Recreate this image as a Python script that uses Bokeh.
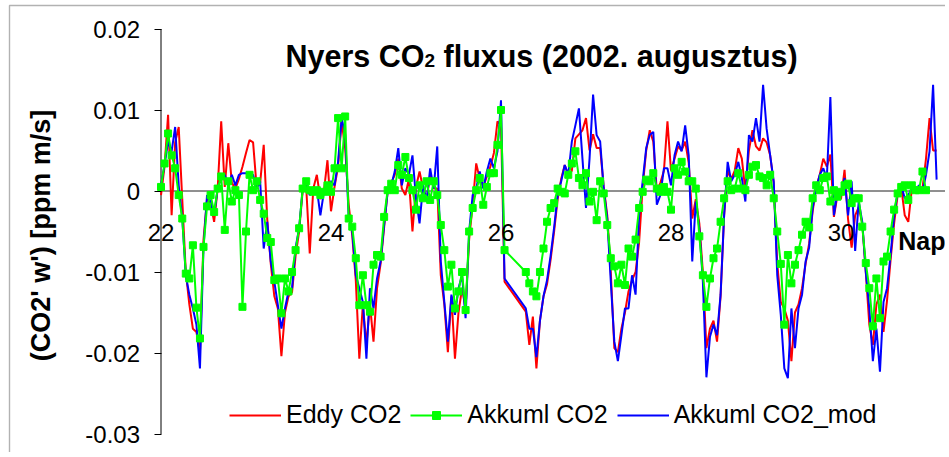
import numpy as np
from bokeh.plotting import figure
from bokeh.models import (Legend, LegendItem, Label, FixedTicker,
                          CustomJSTickFormatter, BoxAnnotation, Range1d)
from bokeh.embed import file_html
from bokeh.resources import INLINE

# ---------------- data (values in 1e-3 ppm m/s, hourly, starting 22 Aug 00h) ----
START_DAY = 22
hours_eddy_mod = list(range(0, 98)) + list(range(103, 220))
hours_akk = list(range(0, 98)) + list(range(103, 217))

eddy_co2 = [
    -0.5, 3.0, 9.4, -3.0, 6.0, 7.9, -1.0, -10.0, -14.0, -17.0, -17.4, -20.0, -6.0, -1.0, -1.5, -3.8, 0.3, 8.6, 0.5, 5.9, 1.0, 0.3, 1.5, 3.0,
    4.7, 6.3, 6.0, 0.5, 1.0, 5.7, -3.5, -9.0, -13.0, -14.5, -20.4, -15.0, -13.0, -12.5, -8.0, -5.0, 0.0, 0.5, -7.7, 0.3, 2.0, -1.0, 0.0, 3.8,
    -2.5, 0.5, 3.0, 8.6, 5.3, -1.7, -5.5, -11.0, -20.7, -14.0, -19.0, -14.0, -18.6, -12.0, -9.0, -4.5, 0.0, 1.0, 2.0, 4.0, 0.3, -0.5, 1.5, -5.0,
    0.5, 2.4, 0.3, -1.0, 2.0, 0.3, 0.3, -10.4, -14.0, -19.9, -13.0, -20.7, -15.0, -12.0, -14.5, -6.0, -1.7, 3.4, 1.5, 0.5, 1.8, 3.0, 4.7, 8.6,
    8.1, -11.2,
    -14.9, -19.0, -15.5, -21.9, -16.0, -13.0, -11.5, -8.5,
    -5.0, -1.0, 1.5, 3.2, 2.0, 2.5, 6.5, 7.0, 7.5,
    9.0, 5.0, 7.0, 5.3, 5.3, 0.5, -3.0, -10.0, -19.4, -19.9, -17.0, -15.0, -12.4, -11.0, -10.0, -6.3, 0.5, 5.0, 7.5, 6.1, 0.0, 1.0, 2.5, 8.6,
    2.5, 4.0, 5.5, 5.0, 6.1, 3.5, -3.4, -1.0, -4.0, -10.0, -19.4, -17.0, -16.0, -18.6, -13.0, -3.0, 2.5, 1.5, 2.5, 5.3, 4.0, 0.0, 5.0, 7.5,
    5.5, 5.0, 6.5, 6.0, 4.4, 1.0, -9.0, -13.7, -14.5, -16.0, -21.0, -15.0, -14.0, -12.0, -9.0, -6.5, -2.5, 0.5, 2.0, 4.0, 3.0, 4.5, -3.2, -0.5,
    -1.0, 2.6, -3.5, -7.0, -3.0, -2.0, -4.0, -10.0, -16.5, -19.0, -14.0, -12.8, -17.4, -13.5, -8.5, -4.0, -0.5, 0.5, -3.0, -3.8, 0.3, 0.0, 0.5, 0.3,
    4.0, 9.0, 5.0, 5.0,
]

akkuml_co2 = [
    0.5, 3.4, 7.1, 4.4, 2.8, -0.5, -3.4, -10.2, -10.8, -6.7, -14.4, -18.2, -6.9, -1.9, -0.5, -2.6, 0.3, 1.8, -4.8, 1.2, -1.3, 0.1, -0.5, -14.3,
    -5.0, 2.0, 0.1, 1.2, -1.1, -2.8, -5.8, -6.3, -11.0, -10.8, -15.1, -10.8, -12.4, -10.0, -7.3, -4.6, 0.3, 1.2, 0.1, -0.1, 0.1, -0.5, -0.1, 0.7,
    -0.1, 2.8, 9.0, 2.8, 9.2, -3.4, -4.4, -8.3, -14.1, -10.4, -14.1, -14.9, -9.1, -7.9, -8.1, -3.2, 0.1, 0.9, 0.1, 3.2, 2.0, 4.2, 1.6, 0.1,
    -2.3, 0.7, -0.9, 1.2, -1.1, 1.2, -0.5, -4.2, -7.3, -11.8, -9.1, -14.5, -12.4, -10.0, -14.7, -5.0, -2.1, 0.1, 1.6, -1.7, 0.5, 2.2, 2.2, 5.7,
    10.0, -7.3,
    -10.0, -11.4, -12.4, -13.0, -10.0, -7.1, -3.8, -2.1,
    -1.5, 0.3, -0.1, -0.3, 2.0, 3.4, 4.9, 1.6, 0.7,
    2.2, -1.3, -0.1, -3.6, 1.2, -0.3, -4.2, -8.3, -9.3, -11.4, -9.1, -11.6, -7.1, -8.1, -6.0, -2.1, -0.1, 1.4, 1.2, 2.2, 0.3, -0.1, 0.5, -0.1,
    -2.3, 2.8, 2.0, 3.6, 2.4, 1.2, 1.2, 0.3, -5.6, -10.4, -14.3, -10.8, -8.3, -7.1, -3.8, -0.9, 1.2, 0.1, 0.3, 2.2, 0.3, 0.1, 2.0, 3.0,
    3.2, 1.8, 1.6, 0.7, 2.0, -0.9, -5.0, -9.0, -16.5, -7.9, -11.4, -9.1, -7.3, -5.4, -3.8, -4.5, -0.9, 0.7, 0.1, 1.6, 1.8, -1.3, 0.1, -0.7,
    -0.1, 0.7, 0.9, -1.5, -0.9, -0.9, -4.4, -8.9, -12.0, -16.7, -10.8, -15.7, -8.7, -8.1, -5.0, -2.3, -0.3, 0.5, 0.7, -1.1, 0.7, 0.1, 0.1, 2.4,
    0.1,
]

akkuml_co2_mod = [
    0.7, 3.2, 6.1, 4.9, 7.9, 0.7, -3.4, -10.4, -12.8, -14.5, -16.5, -21.9, -7.0, -0.5, -1.3, -3.0, 0.3, 1.6, 2.0, 0.7, 2.0, 0.7, 2.0, 2.2,
    2.2, 2.0, 2.0, 0.3, 1.2, -7.1, -3.8, -8.7, -11.2, -14.1, -17.0, -14.5, -12.4, -12.0, -7.0, -4.6, 0.3, 0.7, -0.5, 0.1, 0.3, -3.0, -0.1, 0.7,
    1.2, 0.7, 3.6, 9.0, 7.0, -3.4, -5.0, -10.4, -12.0, -13.7, -20.7, -12.0, -14.5, -10.8, -8.7, -4.2, -0.1, 0.7, 2.4, 5.3, 0.7, 2.8, 2.0, 4.4,
    -0.9, -4.0, 0.7, -1.3, 2.8, 0.3, 5.5, -8.7, -13.7, -18.6, -12.8, -15.3, -12.0, -10.4, -15.7, -5.0, -0.5, 0.3, 2.4, 0.3, 2.4, 4.0, 2.8, 4.9,
    11.2, -10.8,
    -14.5, -17.0, -17.0, -20.5, -16.0, -13.0, -11.0, -8.0,
    -4.5, -0.5, 1.2, 3.2, 2.0, 6.1, 8.1, 10.2, 4.0,
    -2.1, 4.0, 11.9, 6.9, 6.1, 0.3, -3.4, -11.2, -18.6, -21.0, -17.8, -14.5, -14.5, -10.4, -12.8, -3.0, 1.2, 5.3, 6.9, 7.3, -1.7, -0.5, 2.8, 2.8,
    0.7, 4.4, 6.1, 4.9, 8.1, 4.4, -8.7, -1.3, -4.6, -11.2, -23.0, -18.0, -16.5, -17.8, -12.8, -3.0, 3.6, 1.2, 2.0, 3.6, 1.6, -1.3, 6.9, 6.1,
    9.0, 6.1, 13.1, 7.7, 4.4, 1.2, -10.4, -15.3, -21.9, -23.1, -14.5, -19.4, -14.5, -12.8, -8.7, -7.0, -2.1, 0.3, 2.0, 2.8, 1.6, 11.6, -3.0, -0.1,
    -0.5, 1.6, -3.0, 1.2, -7.4, -1.3, -3.8, -10.0, -14.5, -21.0, -17.0, -22.3, -13.7, -12.0, -7.9, -3.0, -0.1, 0.7, -0.9, -0.5, 0.3, -0.1, 0.7, -0.1,
    2.0, 4.9, 13.1, 1.4,
]

x_ticks = [22, 24, 26, 28, 30]
y_ticks = [-0.03, -0.02, -0.01, 0, 0.01, 0.02]
series_labels = ["Eddy CO2", "Akkuml CO2", "Akkuml CO2_mod"]

# ---------------- derived ----------------
t_main = START_DAY + np.array(hours_eddy_mod) / 24.0
t_akk = START_DAY + np.array(hours_akk) / 24.0
y_eddy = np.array(eddy_co2) * 1e-3
y_akk = np.array(akkuml_co2) * 1e-3
y_mod = np.array(akkuml_co2_mod) * 1e-3

FONT = "Liberation Sans"
W, H = 945, 452                 # canvas == plot frame
PX_PER_DAY = 85.0
PX_PER_UNIT = 8100.0
AXIS_X_PX = 160.5               # where day 22 (y axis) sits
ZERO_Y_PX = 190.5               # where y = 0 (x axis) sits

x0 = x_ticks[0] - AXIS_X_PX / PX_PER_DAY
x1 = x0 + W / PX_PER_DAY
y1 = ZERO_Y_PX / PX_PER_UNIT
y0 = y1 - H / PX_PER_UNIT

p = figure(width=W, height=H, output_backend="svg", toolbar_location=None,
           title_location=None,
           x_range=Range1d(x0, x1), y_range=Range1d(y0, y1),
           min_border_left=0, min_border_right=0, min_border_top=0,
           min_border_bottom=0)
p.outline_line_color = None
p.xgrid.visible = False
p.ygrid.visible = False
p.background_fill_color = "white"
p.border_fill_color = "white"

# x axis crossing at y = 0
xa = p.xaxis[0]
xa.fixed_location = 0
xa.ticker = FixedTicker(ticks=x_ticks)
xa.axis_line_color = None
xa.major_tick_out = 0
xa.major_tick_in = 0
xa.minor_tick_out = 0
xa.minor_tick_in = 0
xa.major_label_standoff = 33
xa.major_label_text_font = FONT
xa.major_label_text_font_size = "24px"
xa.major_label_text_color = "black"

# y axis at day 22
ya = p.yaxis[0]
ya.fixed_location = x_ticks[0]
ya.ticker = FixedTicker(ticks=y_ticks)
ya.formatter = CustomJSTickFormatter(code="return tick == 0 ? '0' : tick.toFixed(2);")
ya.axis_line_color = None
ya.major_tick_out = 7
ya.major_tick_in = 0
ya.minor_tick_out = 0
ya.minor_tick_in = 0
ya.major_tick_line_color = "black"
ya.major_label_standoff = 14
ya.major_label_text_font = FONT
ya.major_label_text_font_size = "24px"
ya.major_label_text_color = "black"

# chart-area border (only its top/left edges fall inside the picture)
p.add_layout(BoxAnnotation(left=x0 + 9.0 / PX_PER_DAY, right=x1 + 50,
                           top=y1 - 5.0 / PX_PER_UNIT, bottom=y0 - 1,
                           fill_color=None, fill_alpha=0,
                           line_color="black", line_width=1.4))

# axis lines
p.segment(x0=[x_ticks[0]], y0=[0], x1=[x1], y1=[0], line_color="#202020", line_width=1)
p.segment(x0=[x_ticks[0]], y0=[y_ticks[0]], x1=[x_ticks[0]], y1=[y_ticks[-1]],
          line_color="black", line_width=1)

# series
r_eddy = p.line(t_main, y_eddy, line_color="#FF0000", line_width=2)
r_mod = p.line(t_main, y_mod, line_color="#0000FF", line_width=2)
r_akk = p.line(t_akk, y_akk, line_color="#00FF00", line_width=2)
r_akk_pts = p.scatter(t_akk, y_akk, marker="square", size=7,
                      fill_color="#00FF00", line_color="#00FF00")

legend = Legend(items=[LegendItem(label=series_labels[0], renderers=[r_eddy]),
                       LegendItem(label=series_labels[1], renderers=[r_akk, r_akk_pts]),
                       LegendItem(label=series_labels[2], renderers=[r_mod])],
                orientation="horizontal", location=(229, 23),
                glyph_width=52, glyph_height=20, label_standoff=5, spacing=9,
                padding=0, margin=0, border_line_color=None,
                background_fill_alpha=0,
                label_text_font=FONT, label_text_font_size="25px",
                label_text_color="black")
p.add_layout(legend)

# title with subscript (inside the plot area, as in the original)
title_style = dict(x_units="screen", y_units="screen", text_font=FONT,
                   text_font_style="bold", text_color="black",
                   text_baseline="alphabetic", text_align="left")
p.add_layout(Label(x=285, y=H - 55, text="Nyers CO", text_font_size="30.5px", **title_style))
p.add_layout(Label(x=424, y=H - 60, text="2", text_font_size="19px", **title_style))
p.add_layout(Label(x=443, y=H - 55, text="fluxus (2002. augusztus)",
                   text_font_size="30.5px", **title_style))

# axis titles
p.add_layout(Label(x=W, y=H - 240, text="Nap", x_units="screen", y_units="screen",
                   text_font=FONT, text_font_style="bold", text_font_size="25px",
                   text_color="black", text_baseline="alphabetic", text_align="right"))
p.add_layout(Label(x=40, y=H - 235, text="(CO2' w') [ppm m/s]", angle=np.pi / 2,
                   x_units="screen", y_units="screen",
                   text_font=FONT, text_font_style="bold", text_font_size="27px",
                   text_color="black", text_baseline="middle", text_align="center"))

open("out.html", "w").write(file_html(p, INLINE))
